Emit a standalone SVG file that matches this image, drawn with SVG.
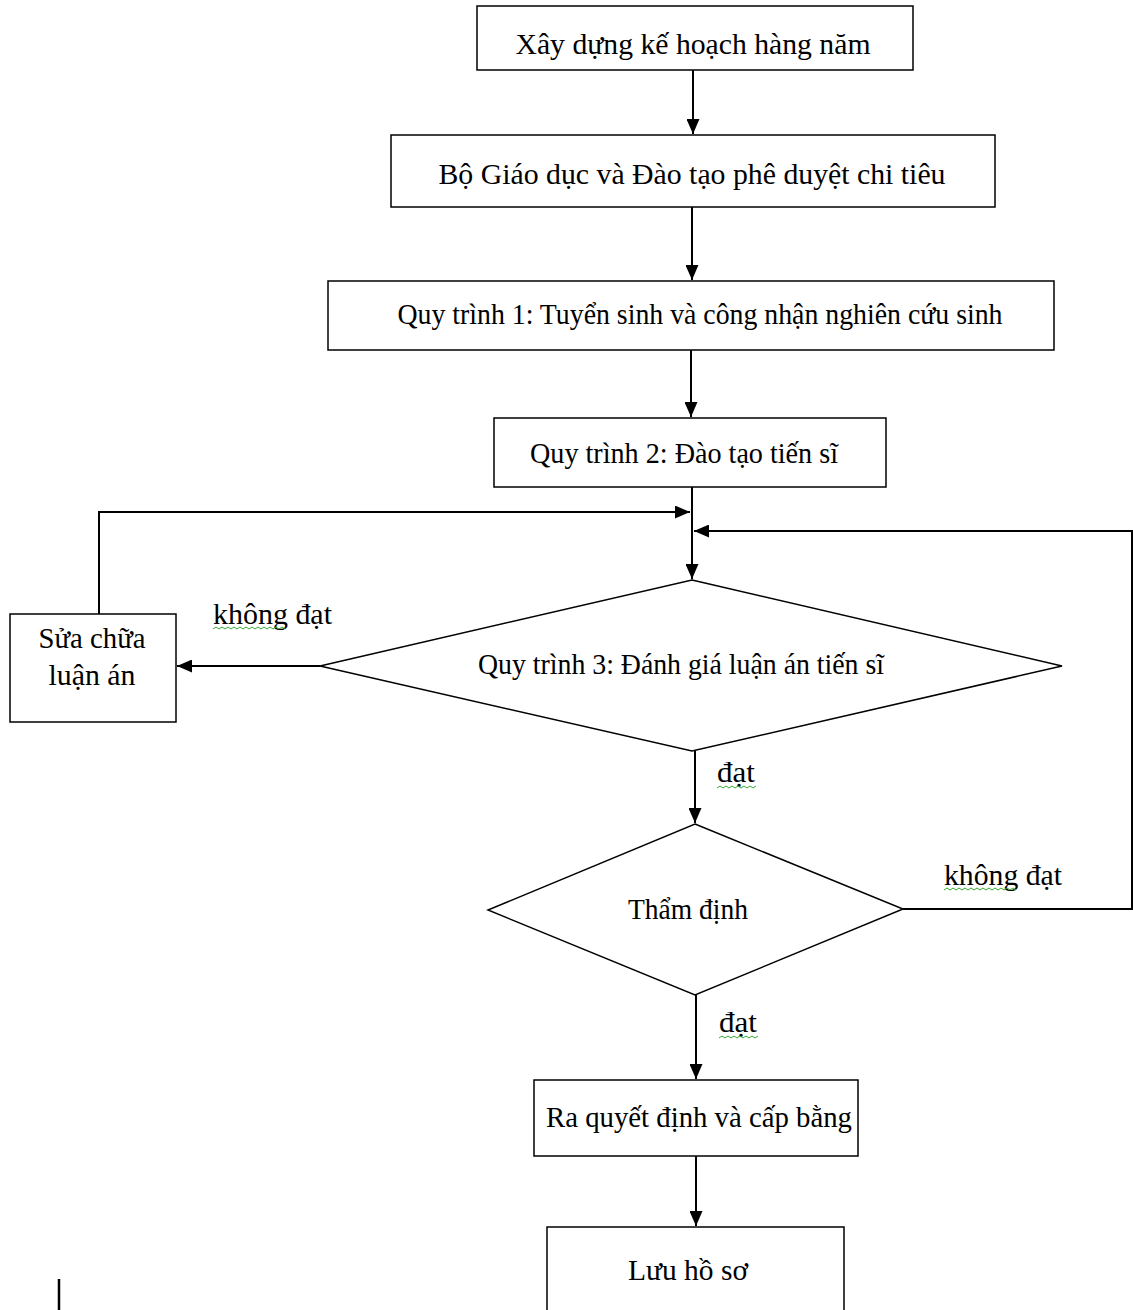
<svg xmlns="http://www.w3.org/2000/svg" width="1133" height="1310" viewBox="0 0 1133 1310">
<style>
.box{fill:#fff;stroke:#000;stroke-width:1.5}
.t{font-family:"Liberation Serif","Times New Roman",serif;font-size:30px;fill:#000;text-anchor:middle}
.l{font-family:"Liberation Serif","Times New Roman",serif;font-size:29px;fill:#000}
.c{fill:none;stroke:#000;stroke-width:2}
.w{fill:none;stroke:#3a3;stroke-width:1}
</style>
<defs>
<marker id="ah" markerWidth="15" markerHeight="13" refX="15" refY="6.5" orient="auto" markerUnits="userSpaceOnUse">
<path d="M0,0 L15,6.5 L0,13 Z" fill="#000"/>
</marker>
</defs>
<rect width="1133" height="1310" fill="#fff"/>
<g id="connectors">
<line class="c" x1="693" y1="70" x2="693" y2="134" marker-end="url(#ah)"/>
<line class="c" x1="692" y1="207" x2="692" y2="280" marker-end="url(#ah)"/>
<line class="c" x1="691" y1="350" x2="691" y2="417" marker-end="url(#ah)"/>
<line class="c" x1="692" y1="487" x2="692" y2="579" marker-end="url(#ah)"/>
<line class="c" x1="320" y1="666" x2="177" y2="666" marker-end="url(#ah)"/>
<polyline class="c" points="99,614 99,512 690,512" marker-end="url(#ah)"/>
<polyline class="c" points="903,909 1132,909 1132,531 694,531" marker-end="url(#ah)"/>
<line class="c" x1="695" y1="751" x2="695" y2="823" marker-end="url(#ah)"/>
<line class="c" x1="696" y1="995" x2="696" y2="1079" marker-end="url(#ah)"/>
<line class="c" x1="696" y1="1156" x2="696" y2="1226" marker-end="url(#ah)"/>
</g>
<g id="n1"><rect class="box" x="477" y="6" width="436" height="64"/><text class="t" x="693" y="54" textLength="355" lengthAdjust="spacingAndGlyphs">Xây dựng kế hoạch hàng năm</text></g>
<g id="n2"><rect class="box" x="391" y="135" width="604" height="72"/><text class="t" x="692" y="184" textLength="507" lengthAdjust="spacingAndGlyphs">Bộ Giáo dục và Đào tạo phê duyệt chi tiêu</text></g>
<g id="n3"><rect class="box" x="328" y="281" width="726" height="69"/><text class="t" x="700" y="324" textLength="605" lengthAdjust="spacingAndGlyphs">Quy trình 1: Tuyển sinh và công nhận nghiên cứu sinh</text></g>
<g id="n4"><rect class="box" x="494" y="418" width="392" height="69"/><text class="t" x="684" y="463" textLength="308" lengthAdjust="spacingAndGlyphs">Quy trình 2: Đào tạo tiến sĩ</text></g>
<g id="n5"><polygon class="box" points="692,580 1062,666 692,751 320,666"/><text class="t" x="681" y="674" textLength="406" lengthAdjust="spacingAndGlyphs">Quy trình 3: Đánh giá luận án tiến sĩ</text></g>
<g id="n6"><rect class="box" x="10" y="614" width="166" height="108"/><text class="t" x="92" y="648" textLength="107" lengthAdjust="spacingAndGlyphs">Sửa chữa</text><text class="t" x="92" y="685" textLength="87" lengthAdjust="spacingAndGlyphs">luận án</text></g>
<g id="n7"><polygon class="box" points="695,824 903,909 695,995 488,910"/><text class="t" x="688" y="919" textLength="120" lengthAdjust="spacingAndGlyphs">Thẩm định</text></g>
<g id="n8"><rect class="box" x="534" y="1080" width="324" height="76"/><text class="t" x="699" y="1127" textLength="306" lengthAdjust="spacingAndGlyphs">Ra quyết định và cấp bằng</text></g>
<g id="n9"><rect class="box" x="547" y="1227" width="297" height="90"/><text class="t" x="688" y="1280" textLength="120" lengthAdjust="spacingAndGlyphs">Lưu hồ sơ</text></g>
<g id="labels">
<text class="l" x="213" y="624" textLength="119" lengthAdjust="spacingAndGlyphs">không đạt</text>
<path class="w" d="M213,629 l3,-2 l3,2 l3,-2 l3,2 l3,-2 l3,2 l3,-2 l3,2 l3,-2 l3,2 l3,-2 l3,2 l3,-2 l3,2 l3,-2 l3,2 l3,-2 l3,2 l3,-2 l3,2 l3,-2 l3,2 l3,-2 l3,2"/>
<text class="l" x="944" y="885" textLength="118" lengthAdjust="spacingAndGlyphs">không đạt</text>
<path class="w" d="M944,890 l3,-2 l3,2 l3,-2 l3,2 l3,-2 l3,2 l3,-2 l3,2 l3,-2 l3,2 l3,-2 l3,2 l3,-2 l3,2 l3,-2 l3,2 l3,-2 l3,2 l3,-2 l3,2 l3,-2 l3,2 l3,-2 l3,2"/>
<text class="l" x="717" y="782" textLength="38" lengthAdjust="spacingAndGlyphs">đạt</text>
<path class="w" d="M717,788 l3,-2 l3,2 l3,-2 l3,2 l3,-2 l3,2 l3,-2 l3,2 l3,-2 l3,2 l3,-2 l3,2 l3,-2"/>
<text class="l" x="719" y="1032" textLength="38" lengthAdjust="spacingAndGlyphs">đạt</text>
<path class="w" d="M719,1038 l3,-2 l3,2 l3,-2 l3,2 l3,-2 l3,2 l3,-2 l3,2 l3,-2 l3,2 l3,-2 l3,2 l3,-2"/>
</g>
<line x1="59" y1="1279" x2="59" y2="1310" stroke="#000" stroke-width="2.5"/>
</svg>
